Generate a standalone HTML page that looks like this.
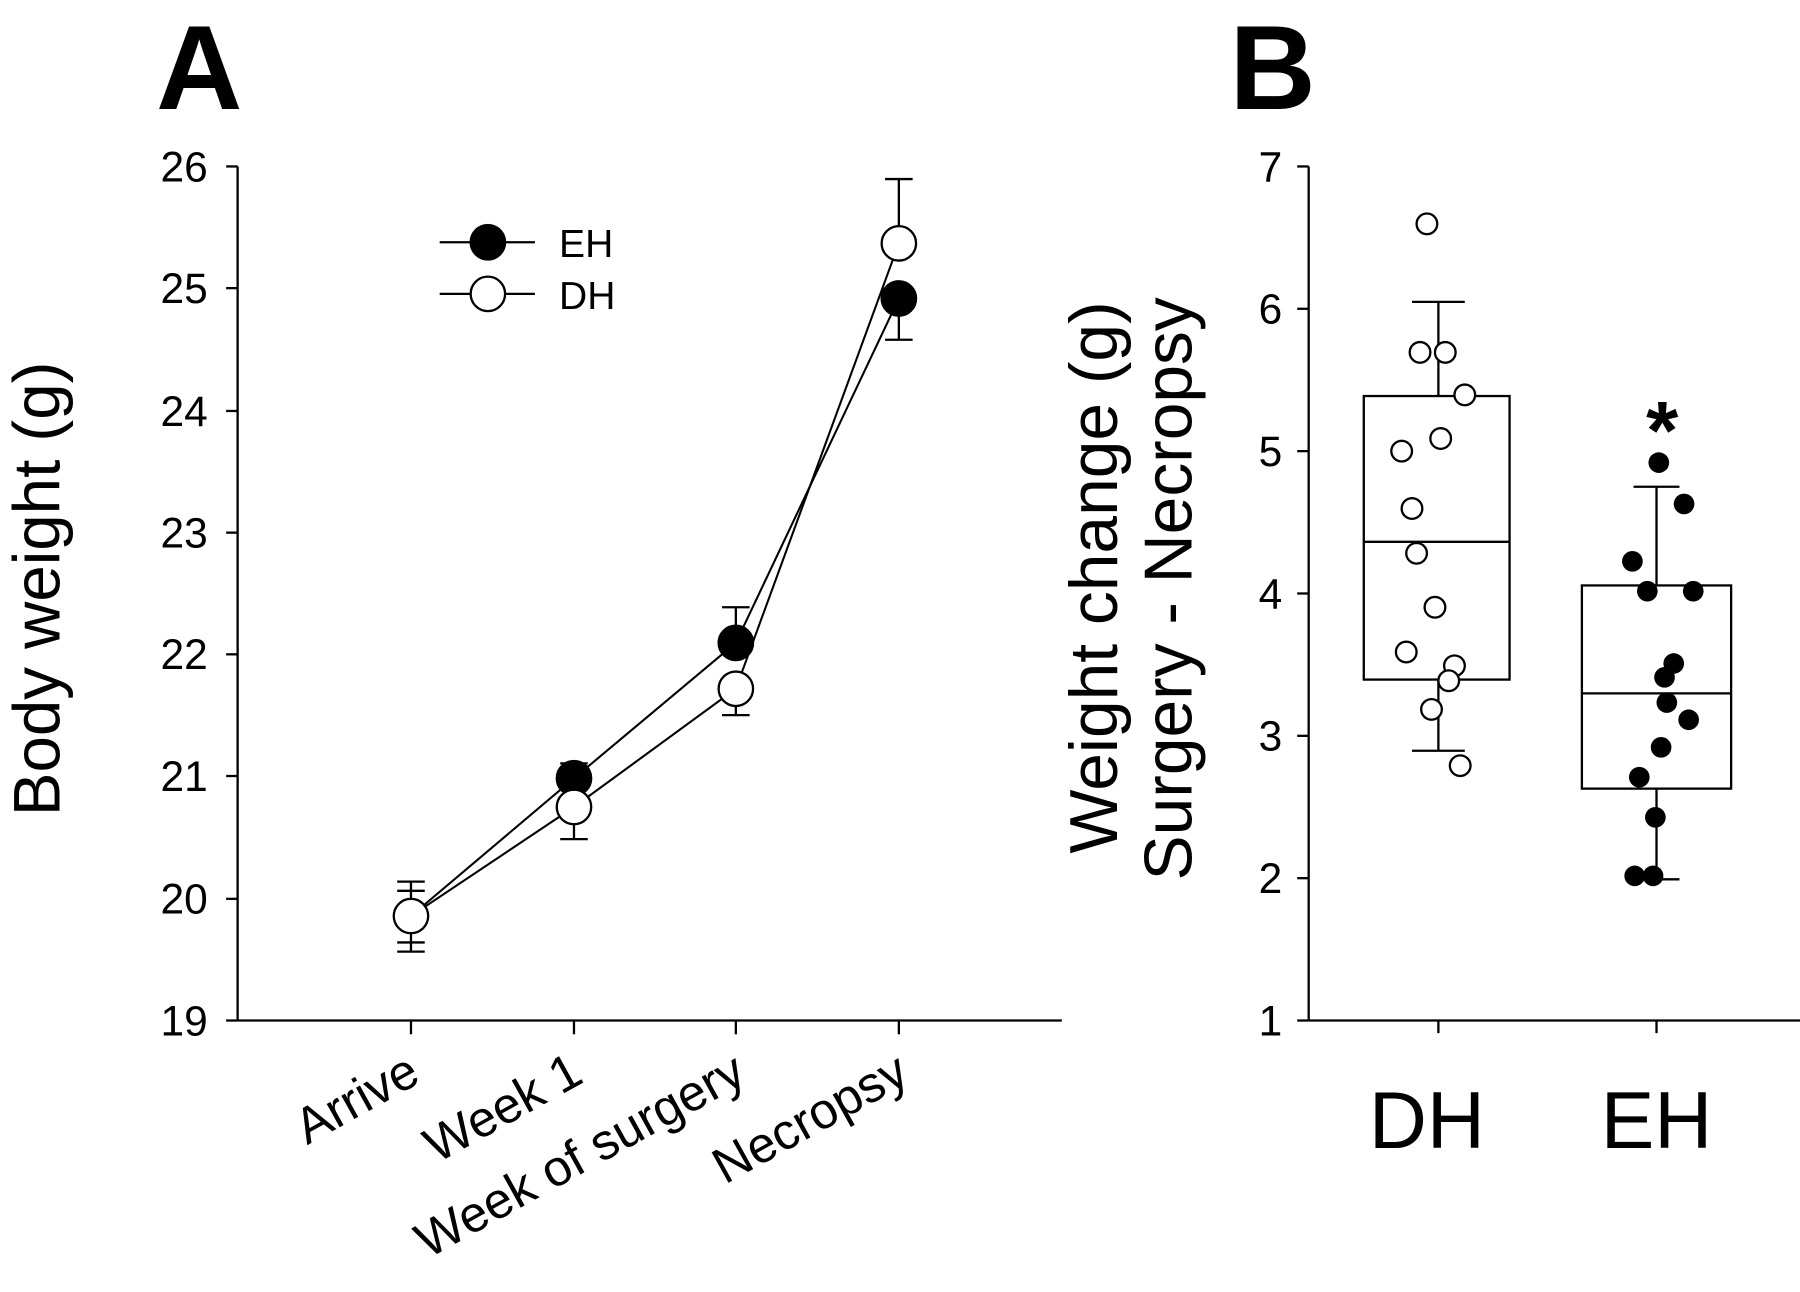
<!DOCTYPE html>
<html><head><meta charset="utf-8"><style>html,body{margin:0;padding:0;background:#fff}svg{display:block}</style></head>
<body>
<svg width="1800" height="1292" viewBox="0 0 1568 1125.5" preserveAspectRatio="none" xmlns="http://www.w3.org/2000/svg" font-family="Liberation Sans, Arial, sans-serif">
<rect width="1568" height="1126" fill="#fff"/>
<text x="136" y="95" font-size="104" font-weight="bold">A</text>
<text x="1071" y="95" font-size="104" font-weight="bold">B</text>
<g stroke="#000" stroke-width="2" fill="none">
<line x1="207" y1="145" x2="207" y2="889"/>
<line x1="207" y1="889" x2="925" y2="889"/>
<line x1="197" y1="145" x2="207" y2="145"/>
<line x1="197" y1="251" x2="207" y2="251"/>
<line x1="197" y1="358" x2="207" y2="358"/>
<line x1="197" y1="464" x2="207" y2="464"/>
<line x1="197" y1="570" x2="207" y2="570"/>
<line x1="197" y1="676" x2="207" y2="676"/>
<line x1="197" y1="783" x2="207" y2="783"/>
<line x1="197" y1="889" x2="207" y2="889"/>
<line x1="358" y1="889" x2="358" y2="901"/>
<line x1="500" y1="889" x2="500" y2="901"/>
<line x1="641" y1="889" x2="641" y2="901"/>
<line x1="783" y1="889" x2="783" y2="901"/>
</g>
<g font-size="37" text-anchor="end">
<text x="181" y="158">26</text><text x="181" y="264">25</text><text x="181" y="371">24</text><text x="181" y="477">23</text><text x="181" y="583">22</text><text x="181" y="689">21</text><text x="181" y="796">20</text><text x="181" y="902">19</text>
</g>
<text transform="translate(52,513) rotate(-90)" font-size="57" text-anchor="middle">Body weight (g)</text>
<g font-size="44" text-anchor="end">
<text transform="translate(368,942) rotate(-29)">Arrive</text>
<text transform="translate(510,942) rotate(-29)">Week 1</text>
<text transform="translate(652,942) rotate(-29)">Week of surgery</text>
<text transform="translate(794,942) rotate(-29)">Necropsy</text>
</g>
<g stroke="#000" stroke-width="2" fill="none">
<line x1="358" y1="768" x2="358" y2="829"/><line x1="346" y1="768" x2="370" y2="768"/><line x1="346" y1="776" x2="370" y2="776"/><line x1="346" y1="821" x2="370" y2="821"/><line x1="346" y1="829" x2="370" y2="829"/>
<line x1="500" y1="680" x2="500" y2="665"/><line x1="488" y1="665" x2="512" y2="665"/>
<line x1="500" y1="705" x2="500" y2="731"/><line x1="488" y1="731" x2="512" y2="731"/>
<line x1="641" y1="560" x2="641" y2="529"/><line x1="629" y1="529" x2="653" y2="529"/>
<line x1="641" y1="600" x2="641" y2="623"/><line x1="629" y1="623" x2="653" y2="623"/>
<line x1="783" y1="212" x2="783" y2="156"/><line x1="771" y1="156" x2="795" y2="156"/>
<line x1="783" y1="260" x2="783" y2="296"/><line x1="771" y1="296" x2="795" y2="296"/>
<polyline points="358,798 500,678 641,560 783,260" stroke-width="1.8"/>
<polyline points="358,798 500,703 641,600 783,212" stroke-width="1.8"/>
<line x1="383" y1="211" x2="466" y2="211"/>
<line x1="383" y1="256" x2="466" y2="256"/>
</g>
<g stroke="#000" stroke-width="2">
<circle cx="500" cy="678" r="15" fill="#000"/>
<circle cx="641" cy="560" r="15" fill="#000"/>
<circle cx="783" cy="260" r="15" fill="#000"/>
<circle cx="500" cy="703" r="15" fill="#fff"/>
<circle cx="641" cy="600" r="15" fill="#fff"/>
<circle cx="783" cy="212" r="15" fill="#fff"/>
<circle cx="358" cy="798" r="15" fill="#fff"/>
<circle cx="425" cy="211" r="15" fill="#000"/>
<circle cx="425" cy="256" r="15" fill="#fff"/>
</g>
<text x="487" y="224" font-size="34">EH</text>
<text x="487" y="269" font-size="34">DH</text>
<g stroke="#000" stroke-width="2" fill="none">
<line x1="1140" y1="145" x2="1140" y2="889"/>
<line x1="1140" y1="889" x2="1568" y2="889"/>
<line x1="1130" y1="145" x2="1140" y2="145"/>
<line x1="1130" y1="269" x2="1140" y2="269"/>
<line x1="1130" y1="393" x2="1140" y2="393"/>
<line x1="1130" y1="517" x2="1140" y2="517"/>
<line x1="1130" y1="641" x2="1140" y2="641"/>
<line x1="1130" y1="765" x2="1140" y2="765"/>
<line x1="1130" y1="889" x2="1140" y2="889"/>
<line x1="1253" y1="889" x2="1253" y2="900"/>
<line x1="1443" y1="889" x2="1443" y2="900"/>
<rect x="1188" y="345" width="127" height="247"/>
<line x1="1188" y1="472" x2="1315" y2="472"/>
<line x1="1253" y1="345" x2="1253" y2="263"/><line x1="1230" y1="263" x2="1276" y2="263"/>
<line x1="1253" y1="592" x2="1253" y2="654"/><line x1="1230" y1="654" x2="1276" y2="654"/>
<rect x="1378" y="510" width="130" height="177"/>
<line x1="1378" y1="604" x2="1508" y2="604"/>
<line x1="1443" y1="510" x2="1443" y2="424"/><line x1="1423" y1="424" x2="1463" y2="424"/>
<line x1="1443" y1="687" x2="1443" y2="766"/><line x1="1423" y1="766" x2="1463" y2="766"/>
</g>
<g font-size="37" text-anchor="end">
<text x="1117" y="158">7</text><text x="1117" y="282">6</text><text x="1117" y="406">5</text><text x="1117" y="530">4</text><text x="1117" y="654">3</text><text x="1117" y="778">2</text><text x="1117" y="902">1</text>
</g>
<text transform="translate(973,503) rotate(-90)" font-size="59" text-anchor="middle">Weight change (g)</text>
<text transform="translate(1038,513) rotate(-90)" font-size="59" text-anchor="middle">Surgery - Necropsy</text>
<text x="1243" y="1000" font-size="70" text-anchor="middle">DH</text>
<text x="1443" y="1000" font-size="70" text-anchor="middle">EH</text>
<text x="1448" y="400" font-size="72" text-anchor="middle" font-weight="bold">*</text>
<g stroke="#000" stroke-width="2" fill="#fff">
<circle cx="1243" cy="195" r="9"/>
<circle cx="1237" cy="307" r="9"/><circle cx="1259" cy="307" r="9"/>
<circle cx="1276" cy="344" r="9"/>
<circle cx="1255" cy="382" r="9"/><circle cx="1221" cy="393" r="9"/>
<circle cx="1230" cy="443" r="9"/>
<circle cx="1234" cy="482" r="9"/>
<circle cx="1250" cy="529" r="9"/>
<circle cx="1225" cy="568" r="9"/>
<circle cx="1267" cy="580" r="9"/><circle cx="1262" cy="593" r="9"/>
<circle cx="1247" cy="618" r="9"/>
<circle cx="1272" cy="667" r="9"/>
</g>
<g fill="#000">
<circle cx="1445" cy="403" r="9"/>
<circle cx="1467" cy="439" r="9"/>
<circle cx="1422" cy="489" r="9"/>
<circle cx="1435" cy="515" r="9"/><circle cx="1475" cy="515" r="9"/>
<circle cx="1458" cy="578" r="9"/><circle cx="1450" cy="590" r="9"/>
<circle cx="1452" cy="612" r="9"/><circle cx="1471" cy="627" r="9"/>
<circle cx="1447" cy="651" r="9"/>
<circle cx="1428" cy="677" r="9"/>
<circle cx="1442" cy="712" r="9"/>
<circle cx="1424" cy="763" r="9"/><circle cx="1440" cy="763" r="9"/>
</g>
</svg>
</body></html>
